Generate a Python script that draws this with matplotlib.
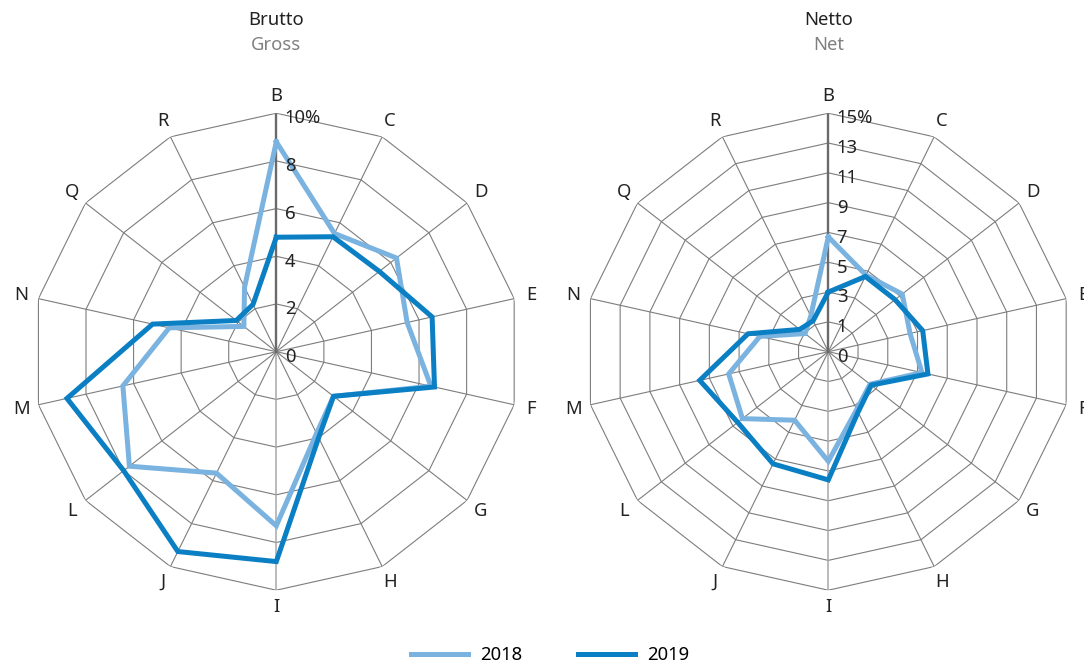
import matplotlib
matplotlib.use('Agg')
import matplotlib.pyplot as plt
import numpy as np

plt.rcParams['font.family'] = ['Noto Sans', 'DejaVu Sans']

categories = ['B', 'C', 'D', 'E', 'F', 'G', 'H', 'I', 'J', 'L', 'M', 'N', 'Q', 'R']

# Brutto / Gross, in %
gross_2018 = [8.8, 5.5, 6.3, 5.5, 6.5, 3.0, 3.8, 7.3, 5.65, 7.7, 6.45, 4.5, 1.7, 3.0]
gross_2019 = [4.8, 5.35, 5.4, 6.55, 6.65, 3.0, 4.0, 8.8, 9.3, 8.0, 8.8, 5.2, 2.1, 2.2]

# Netto / Net, in %
net_2018 = [6.7, 4.7, 5.2, 4.5, 5.3, 2.5, 3.3, 6.35, 4.1, 6.2, 5.7, 3.6, 0.95, 1.65]
net_2019 = [3.0, 4.6, 4.6, 5.35, 5.7, 2.6, 3.5, 7.6, 7.35, 6.6, 7.65, 4.4, 1.4, 1.3]

gross_rings = [2, 4, 6, 8, 10]
gross_labels = ['0', '2', '4', '6', '8', '10%']
net_rings = [1, 3, 5, 7, 9, 11, 13, 15]
net_labels = ['0', '1', '3', '5', '7', '9', '11', '13', '15%']

C18 = '#7ab3df'
C19 = '#0a7fc4'
GRID = '#7d7d7d'
FS = 13.3

n = len(categories)
ang = np.linspace(0, 2 * np.pi, n, endpoint=False)
ang_c = np.append(ang, ang[0])

fig = plt.figure(figsize=(10.84, 6.64), dpi=100)

W, H = 1084, 664
RX, RY = 244, 238.5
CY = 351.7


def radar(cx, rmin, rmax, rings, labels, d18, d19, title, sub):
    ax = fig.add_axes([(cx - RX) / W, (H - CY - RY) / H, 2 * RX / W, 2 * RY / H],
                      projection='polar')
    ax.set_aspect('auto')
    ax.set_theta_zero_location('N')
    ax.set_theta_direction(-1)
    ax.set_ylim(rmin, rmax)
    ax.set_xticks([])
    ax.set_yticks([])
    ax.grid(False)
    ax.spines['polar'].set_visible(False)
    ax.patch.set_visible(False)

    for r in rings:
        ax.plot(ang_c, [r] * (n + 1), color=GRID, lw=0.8, zorder=1)
    for i, a in enumerate(ang):
        if i == 0:
            ax.plot([a, a], [rmin, rmax], color='#6a6a6a', lw=1.7, zorder=2)
        elif i == 7:
            ax.plot([a, a], [rmin, rmax], color='#a8a8a8', lw=1.1, zorder=1)
        else:
            ax.plot([a, a], [rmin, rmax], color=GRID, lw=0.8, zorder=1)

    ax.plot(ang_c, d18 + d18[:1], color=C18, lw=3.6, solid_joinstyle='miter', zorder=3, label='2018')
    ax.plot(ang_c, d19 + d19[:1], color=C19, lw=3.6, solid_joinstyle='miter', zorder=4, label='2019')

    for r, lab in zip([rmin] + rings, labels):
        ax.annotate(lab, xy=(0, r), xytext=(6, -3.8), textcoords='offset points',
                    ha='left', va='center', fontsize=FS, color='#222222', zorder=5)

    rl = rmax + (rmax - rmin) * 0.072
    for a, c in zip(ang, categories):
        ax.text(a, rl, c, ha='center', va='center', fontsize=FS, color='#222222', clip_on=False)

    fig.text(cx / W, 1 - 20 / H, title, ha='center', va='center', fontsize=13.3, color='#222222')
    fig.text(cx / W, 1 - 45 / H, sub, ha='center', va='center', fontsize=13.3, color='#808080')
    return ax


ax1 = radar(276.3, 0, 10, gross_rings, gross_labels, gross_2018, gross_2019, 'Brutto', 'Gross')
ax2 = radar(828.3, -1, 15, net_rings, net_labels, net_2018, net_2019, 'Netto', 'Net')

h, l = ax1.get_legend_handles_labels()
fig.legend(h, l, loc='center', bbox_to_anchor=(550 / W, 1 - 655 / H), ncol=2, frameon=False,
           fontsize=FS, handlelength=3.1, handletextpad=0.65, columnspacing=3.0)

fig.savefig('out.png', dpi=100)
